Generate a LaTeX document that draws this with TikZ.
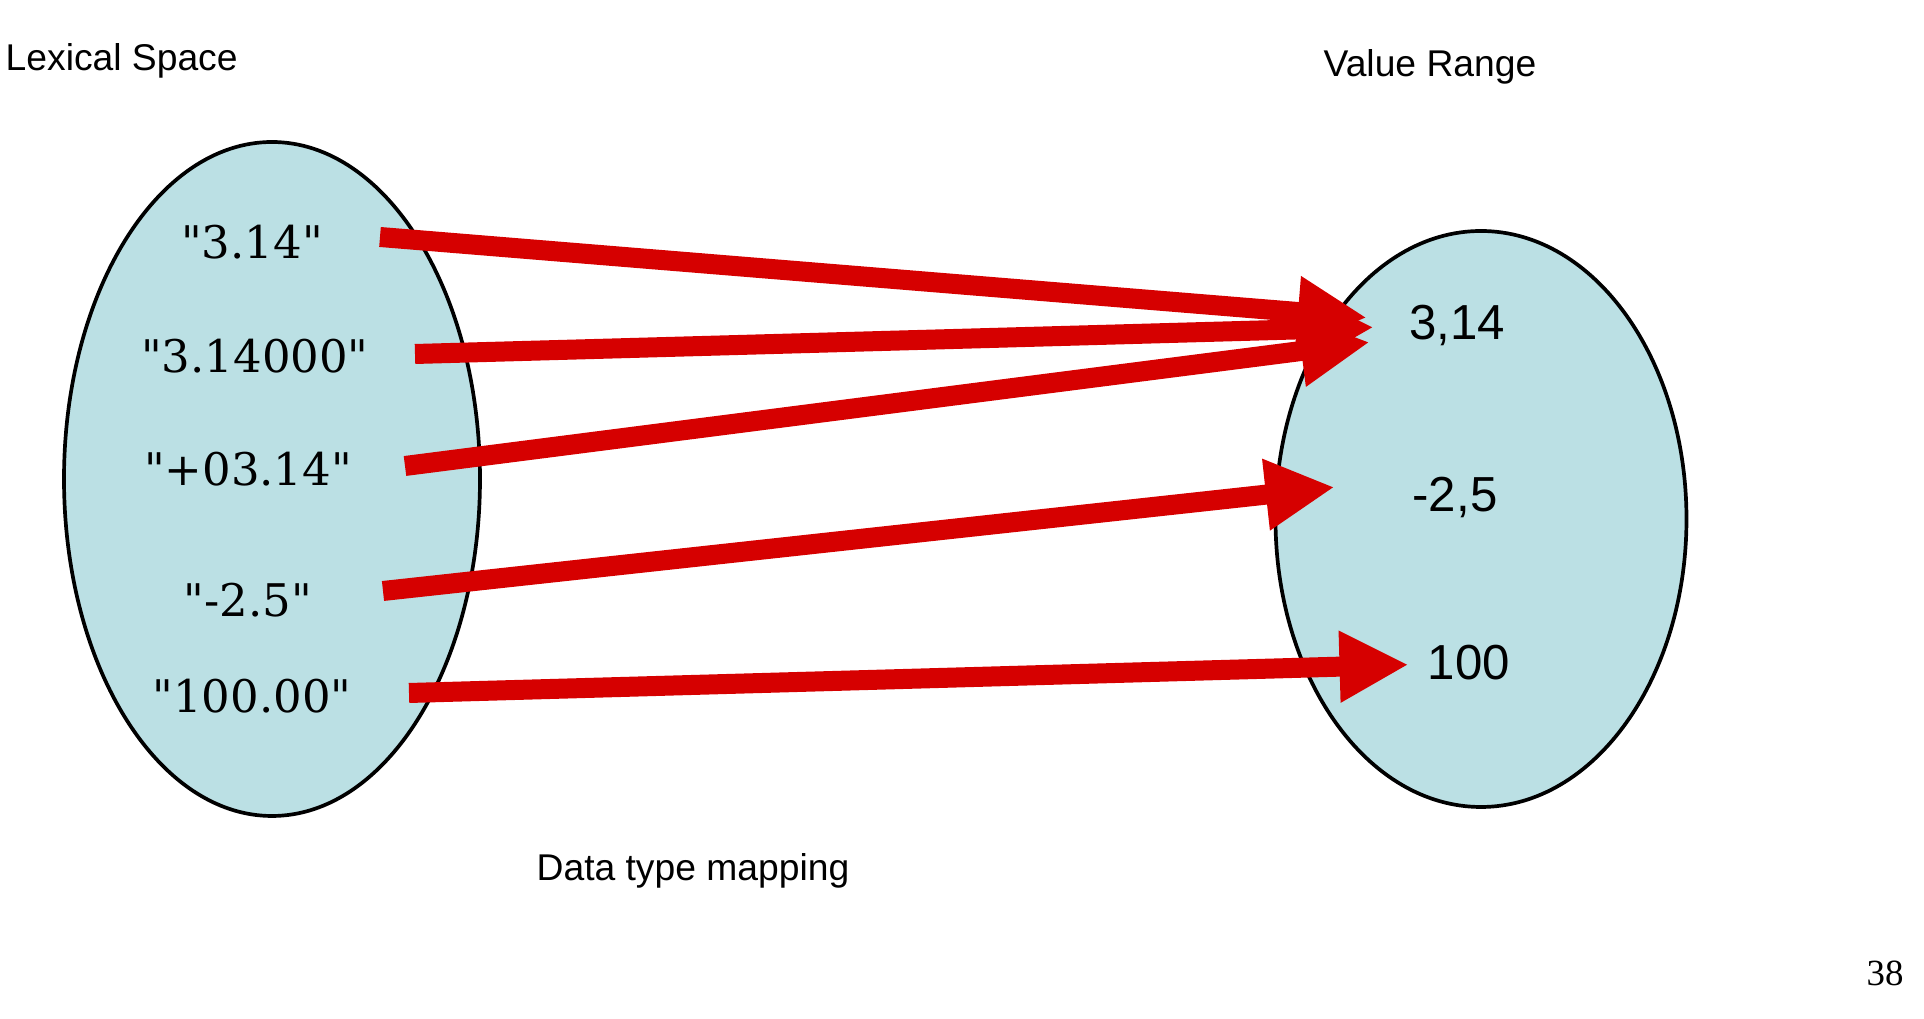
\documentclass[tikz,border=0pt]{standalone}
\usepackage{fontspec}
\setmainfont{Liberation Sans}
\newfontfamily\lexfont{DejaVu Serif}
\newfontfamily\pagefont{Liberation Serif}
\usetikzlibrary{arrows.meta}
\definecolor{setblue}{RGB}{187,224,228}
\definecolor{maparrowred}{RGB}{214,0,0}

\begin{document}
\begin{tikzpicture}[
    setshape/.style={draw=black, line width=1.05pt, fill=setblue},
    lexlabel/.style={font=\lexfont\fontsize{12.8}{15}\selectfont},
    vallabel/.style={font=\fontsize{14}{17}\selectfont},
    caption/.style={font=\fontsize{10.6}{13}\selectfont},
    maparrow/.style={draw=maparrowred, line width=2mm, -{Triangle[length=6.9mm, width=6.7mm]}}
  ]
    \useasboundingbox (0,0) rectangle (19.24,10.19);

    \filldraw[setshape] (2.72, 5.40) ellipse (2.08 and 3.37);
    \filldraw[setshape] (14.81, 5.00) ellipse (2.055 and 2.88);

    \node[caption, anchor=west, inner sep=0pt] (lexspace) at (0.05, 9.58) {Lexical Space};
    \node[caption] (valrange) at (14.30, 9.52) {Value Range};
    \node[caption] (mapping) at (6.93, 1.48) {Data type mapping};
    \node[font=\pagefont\fontsize{10.5}{12}\selectfont] (pagenum) at (18.85, 0.46) {38};

    \node[lexlabel] (lex1) at (2.52, 7.77) {"3.14"};
    \node[lexlabel] (lex2) at (2.55, 6.63) {"3.14000"};
    \node[lexlabel] (lex3) at (2.48, 5.50) {"+03.14"};
    \node[lexlabel] (lex4) at (2.48, 4.19) {"-2.5"};
    \node[lexlabel] (lex5) at (2.52, 3.23) {"100.00"};

    \node[vallabel] (val1) at (14.57, 6.94) {3,14};
    \node[vallabel] (val2) at (14.55, 5.22) {-2,5};
    \node[vallabel] (val3) at (14.69, 3.56) {100};

    \coordinate (tail1) at (3.80, 7.82);
    \coordinate (tail2) at (4.15, 6.65);
    \coordinate (tail3) at (4.05, 5.53);
    \coordinate (tail4) at (3.83, 4.28);
    \coordinate (tail5) at (4.09, 3.26);

    \draw[maparrow, shorten >=3mm] (tail1) -- (val1);
    \draw[maparrow, shorten >=2.3mm] (tail2) -- (val1);
    \draw[maparrow, shorten >=8.8mm] (tail3) -- ([yshift=-0.6mm]val1.center);
    \draw[maparrow, shorten >=6.6mm] (tail4) -- ([yshift=1.7mm]val2.west);
    \draw[maparrow, shorten >=0.7mm] (tail5) -- (val3);
  \end{tikzpicture}
\end{document}
